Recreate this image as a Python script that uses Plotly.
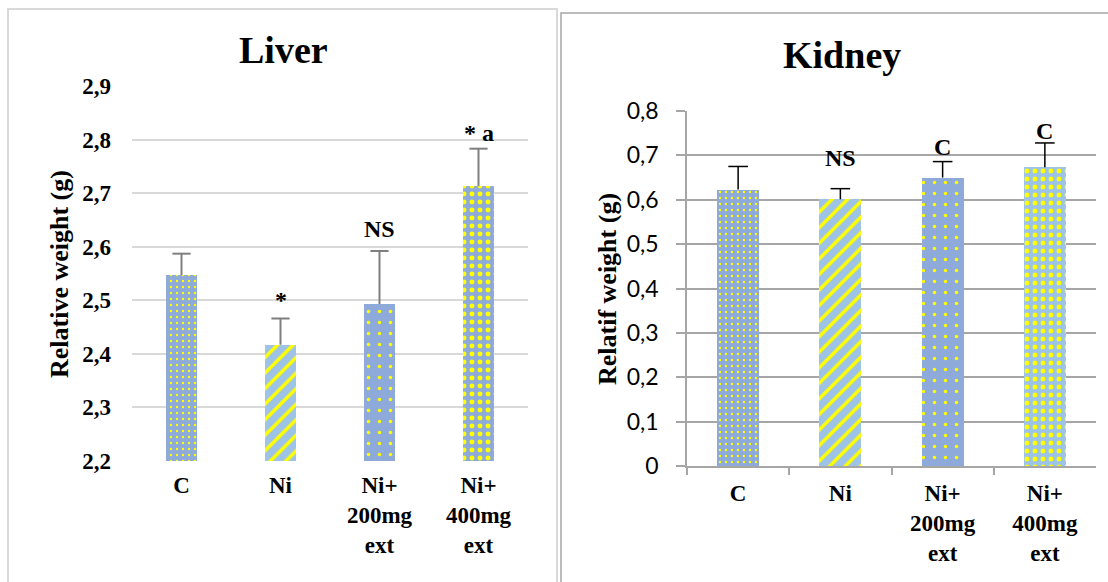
import plotly.graph_objects as go

# ---- data ----
groups = ["C", "Ni", "Ni+<br>200mg<br>ext", "Ni+<br>400mg<br>ext"]

liver_mean = [2.547, 2.417, 2.493, 2.713]
liver_err = [0.040, 0.049, 0.099, 0.070]
liver_marks = ["", "*", "NS", "* a"]
liver_ticks = [2.2, 2.3, 2.4, 2.5, 2.6, 2.7, 2.8, 2.9]
liver_ticktext = ["2,2", "2,3", "2,4", "2,5", "2,6", "2,7", "2,8", "2,9"]

kidney_mean = [0.623, 0.601, 0.650, 0.673]
kidney_err = [0.052, 0.024, 0.036, 0.055]
kidney_marks = ["", "NS", "C", "C"]
kidney_ticks = [0, 0.1, 0.2, 0.3, 0.4, 0.5, 0.6, 0.7, 0.8]
kidney_ticktext = ["0", "0,1", "0,2", "0,3", "0,4", "0,5", "0,6", "0,7", "0,8"]

# ---- styling ----
W, H = 1108, 582
SERIF = "Liberation Serif"
BLUE = "#8eaadb"
LIGHT = "#9dc3e6"
YELLOW = "#ffff00"


def px_x(v):
    return v / W


def px_y(v):
    return 1 - v / H


# yellow motif drawn over a per-bar blue background
liver_pattern = dict(
    shape=[".", "/", ".", "."],
    size=[6, 11, 11, 8],
    solidity=[0.12, 0.32, 0.08, 0.3],
    fgcolor=[YELLOW] * 4,
    bgcolor=[BLUE, LIGHT, BLUE, BLUE],
    fillmode="replace",
)
kidney_pattern = dict(
    shape=[".", "/", ".", "."],
    size=[6, 11, 11, 8],
    solidity=[0.12, 0.32, 0.08, 0.3],
    fgcolor=[YELLOW] * 4,
    bgcolor=[BLUE, LIGHT, BLUE, LIGHT],
    fillmode="replace",
)


def upper_error(x, mean, err, axes, color, thickness, cap):
    """Plus-only error bar: stem down to the bar top, cap only at the upper end."""
    return go.Scatter(
        x=x, y=[m + e for m, e in zip(mean, err)],
        mode="markers",
        marker=dict(symbol="line-ew", size=cap, color=color,
                    line=dict(color=color, width=thickness)),
        error_y=dict(type="data", symmetric=False, array=[0] * len(err), arrayminus=err,
                     color=color, thickness=thickness, width=0),
        xaxis=axes[0], yaxis=axes[1], showlegend=False, hoverinfo="skip",
    )


fig = go.Figure()

fig.add_trace(go.Bar(
    x=groups, y=liver_mean, width=0.32,
    marker=dict(color=YELLOW, line=dict(width=0), pattern=liver_pattern),
    xaxis="x", yaxis="y", showlegend=False, hoverinfo="x+y",
))
fig.add_trace(upper_error(groups, liver_mean, liver_err, ("x", "y"), "#7f7f7f", 2, 13))

fig.add_trace(go.Bar(
    x=groups, y=kidney_mean, width=0.41,
    marker=dict(color=YELLOW, line=dict(width=0), pattern=kidney_pattern),
    xaxis="x2", yaxis="y2", showlegend=False, hoverinfo="x+y",
))
fig.add_trace(upper_error(groups, kidney_mean, kidney_err, ("x2", "y2"), "#000000", 1.5, 14))

bold_serif = dict(family=SERIF, size=23, color="black", weight="bold")

fig.update_layout(
    width=W, height=H,
    margin=dict(l=0, r=0, t=0, b=0),
    paper_bgcolor="white", plot_bgcolor="white",
    bargap=0,
    xaxis=dict(domain=[px_x(132), px_x(528)], anchor="y", type="category",
               automargin=False,
               showgrid=False, showline=False, ticks="", tickfont=bold_serif,
               ticklabelstandoff=8, fixedrange=True),
    yaxis=dict(domain=[px_y(461), px_y(86)], anchor="x", range=[2.2, 2.9],
               automargin=False,
               tickvals=liver_ticks, ticktext=liver_ticktext,
               showgrid=True, gridcolor="#d9d9d9", gridwidth=2,
               zeroline=False, showline=False, ticks="",
               tickfont=bold_serif, ticklabelstandoff=20, fixedrange=True),
    xaxis2=dict(domain=[px_x(687), px_x(1096)], anchor="y2", type="category",
                automargin=False,
                showgrid=False, showline=True, linecolor="#a6a6a6", linewidth=1.5,
                ticks="outside", tickson="boundaries", ticklen=7,
                tickcolor="#a6a6a6", tickwidth=1.5,
                tickfont=bold_serif, ticklabelstandoff=6, fixedrange=True),
    yaxis2=dict(domain=[px_y(466), px_y(111)], anchor="x2", range=[0, 0.8],
                automargin=False,
                tickvals=kidney_ticks, ticktext=kidney_ticktext,
                showgrid=True, gridcolor="#a6a6a6", gridwidth=1.5,
                zeroline=False, showline=True, linecolor="#a6a6a6", linewidth=1.5,
                ticks="outside", ticklen=9, tickcolor="#a6a6a6", tickwidth=1.5,
                tickfont=dict(family="Lato", size=23, color="black"),
                ticklabelstandoff=13, fixedrange=True),
)

# panel frames
fig.add_shape(type="rect", xref="paper", yref="paper",
              x0=px_x(8), x1=px_x(557), y0=-0.02, y1=px_y(9),
              line=dict(color="#d9d9d9", width=2), fillcolor="rgba(0,0,0,0)", layer="below")
fig.add_shape(type="rect", xref="paper", yref="paper",
              x0=px_x(561), x1=1.02, y0=-0.02, y1=px_y(13),
              line=dict(color="#a6a6a6", width=1.5), fillcolor="rgba(0,0,0,0)", layer="below")

annotations = []

# panel titles
annotations.append(dict(text="Liver", xref="paper", yref="paper", x=px_x(283), y=px_y(73),
                        xanchor="center", yanchor="bottom", showarrow=False,
                        font=dict(family=SERIF, size=38, color="black", weight="bold")))
annotations.append(dict(text="Kidney", xref="paper", yref="paper", x=px_x(842), y=px_y(78),
                        xanchor="center", yanchor="bottom", showarrow=False,
                        font=dict(family=SERIF, size=38, color="black", weight="bold")))

# axis titles
annotations.append(dict(text="Relative weight (g)", xref="paper", yref="paper",
                        x=px_x(59), y=px_y(274), textangle=-90,
                        xanchor="center", yanchor="middle", showarrow=False,
                        font=dict(family=SERIF, size=26, color="black", weight="bold")))
annotations.append(dict(text="Relatif weight (g)", xref="paper", yref="paper",
                        x=px_x(607), y=px_y(289), textangle=-90,
                        xanchor="center", yanchor="middle", showarrow=False,
                        font=dict(family=SERIF, size=26, color="black", weight="bold")))

# significance marks above the error bars
liver_shift = [0, 4, 7, 1]
kidney_shift = [0, 16, 0, -3]
mark_font = dict(family=SERIF, size=24, color="black", weight="bold")
for g, m, e, t, s in zip(groups, liver_mean, liver_err, liver_marks, liver_shift):
    if t:
        annotations.append(dict(text=t, x=g, y=m + e, xref="x", yref="y",
                                xanchor="center", yanchor="bottom", yshift=s,
                                showarrow=False, font=mark_font))
for g, m, e, t, s in zip(groups, kidney_mean, kidney_err, kidney_marks, kidney_shift):
    if t:
        annotations.append(dict(text=t, x=g, y=m + e, xref="x2", yref="y2",
                                xanchor="center", yanchor="bottom", yshift=s,
                                showarrow=False, font=mark_font))

fig.update_layout(annotations=annotations)

fig.write_html("out.html")
